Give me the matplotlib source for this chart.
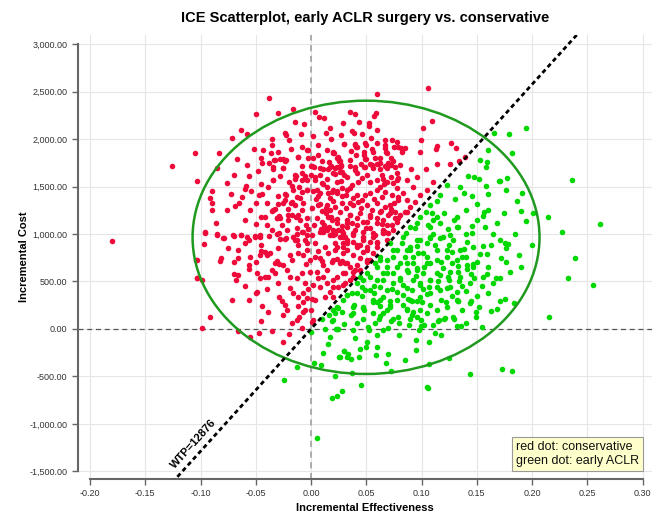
import numpy as np
import matplotlib
matplotlib.use('Agg')
import matplotlib.pyplot as plt
from matplotlib.patches import Ellipse
from matplotlib.ticker import FuncFormatter, MultipleLocator

plt.rcParams['font.family'] = ['Liberation Sans', 'DejaVu Sans']

# ICE plane values (incremental effectiveness, incremental cost)
far_left = [(-0.105, 1856), (-0.1255, 1720), (-0.103, 1562), (-0.180, 927), (-0.104, 727), (-0.103, 537)]

upper_left = [
    (-0.0377, 2436), (-0.0495, 2261), (-0.0299, 2274), (-0.016, 2320), (0.0036, 2282), (0.0075, 2232),
    (0.0115, 2225), (-0.0142, 2180), (-0.006, 2155), (-0.063, 2092), (-0.058, 2057), (-0.024, 2067),
    (-0.023, 2043), (-0.009, 2057), (0.0015, 2032), (0.0136, 2064), (0.027, 2043), (0.029, 2166),
    (-0.0718, 2008), (-0.083, 1853), (-0.0667, 1790), (-0.035, 1934), (-0.0434, 1885), (-0.003, 1882),
    (0.030, 1948), (0.0196, 1861), (-0.036, 1853), (-0.0118, 1814), (-0.045, 1797), (-0.0377, 1751),
    (-0.0443, 1751), (-0.0335, 1776), (-0.028, 1787), (-0.023, 1780), (0.0018, 1800), (0.010, 1769),
    (0.0238, 1804), (0.0256, 1769), (0.027, 1727), (0.0, 1713), (0.0024, 1709), (0.011, 1685),
    (0.0175, 1703), (0.022, 1635), (0.0262, 1653), (0.030, 1618), (-0.0253, 1695), (-0.0344, 1682),
    (-0.085, 1695), (-0.0763, 1541), (-0.056, 1611), (-0.0585, 1503), (-0.054, 1450), (-0.0347, 1569),
    (-0.039, 1492), (-0.0139, 1614), (-0.0148, 1576), (-0.0079, 1569), (-0.0057, 1608), (0.0, 1622),
    (0.0036, 1572), (0.0081, 1622), (-0.017, 1509), (-0.0106, 1498), (-0.0039, 1464), (0.0057, 1464),
    (0.0145, 1495), (0.0187, 1446), (0.0232, 1456), (0.0277, 1488), (0.0314, 1408), (-0.0896, 1453),
    (-0.091, 1376), (-0.0893, 1330), (-0.090, 1253), (-0.0624, 1387), (-0.076, 1253), (-0.069, 1295),
    (-0.0468, 1414), (-0.0446, 1422), (-0.040, 1327), (-0.0329, 1260), (-0.035, 1246), (-0.0229, 1414),
    (-0.0233, 1358), (-0.0178, 1327), (-0.021, 1203), (-0.0175, 1197), (-0.0139, 1183), (0.0048, 1366),
    (0.0081, 1319), (0.0133, 1274), (0.020, 1348), (0.0136, 1225), (0.018, 1183), (0.0235, 1155),
    (-0.045, 1176), (-0.042, 1183), (-0.0495, 1106), (-0.0857, 1119), (-0.031, 1172), (-0.029, 1193),
    (-0.0957, 1018), (-0.0703, 990), (-0.0636, 990), (-0.058, 972), (-0.051, 979), (-0.046, 986),
    (-0.0287, 1008), (-0.0127, 997), (-0.0081, 1025), (-0.0024, 1056), (0.0027, 1098), (0.009, 1050),
    (0.0127, 1053), (0.0163, 1077), (0.0202, 1039), (0.028, 1035), (0.0323, 1077), (-0.0853, 997),
    (-0.079, 955),
]

upper_right = [
    (0.106, 2535), (0.060, 2474), (0.0356, 2285), (0.040, 2264), (0.0588, 2271), (0.0573, 2240),
    (0.0432, 2183), (0.0525, 2166), (0.0528, 2141), (0.1098, 2190), (0.1017, 2120), (0.037, 2088),
    (0.0386, 2067), (0.0543, 2008), (0.0667, 1993), (0.0733, 1993), (0.0993, 1990), (0.040, 1944),
    (0.041, 1920), (0.0495, 1934), (0.067, 1903), (0.079, 1913), (0.081, 1909), (0.085, 1909),
    (0.114, 1927), (0.113, 1892), (0.127, 1962), (0.131, 1903), (0.099, 1864), (0.021, 1857),
    (0.048, 1867), (0.0564, 1864), (0.0679, 1861), (0.0824, 1861), (0.0244, 1808), (0.0256, 1780),
    (0.0489, 1787), (0.0624, 1804), (0.0624, 1745), (0.070, 1751), (0.074, 1766), (0.0178, 1716),
    (0.0232, 1703), (0.0274, 1716), (0.0353, 1716), (0.040, 1674), (0.0482, 1703), (0.055, 1730),
    (0.0564, 1695), (0.067, 1716), (0.0724, 1727), (0.0805, 1724), (0.0905, 1682), (0.1043, 1682),
    (0.1143, 1734), (0.126, 1737), (0.134, 1766), (0.1397, 1814), (0.1107, 1551), (0.1047, 1464),
    (0.0986, 1411), (0.094, 1340), (0.0896, 1288), (0.085, 1235), (0.079, 1166), (0.073, 1095),
    (0.067, 1025), (0.0866, 1569), (0.0926, 1498), (0.0835, 1429), (0.0957, 1604), (0.0776, 1569),
    (0.079, 1358), (0.0866, 1358),
    (0.1526, 1780), (0.159, 1758), (0.1605, 1885), (0.1587, 1703), (0.166, 2060), (0.179, 2053),
    (0.195, 2116), (0.1816, 1850), (0.1424, 1614), (0.1478, 1604), (0.1517, 1576), (0.135, 1498),
    (0.158, 1506), (0.170, 1558), (0.1774, 1593), (0.1765, 1464), (0.191, 1435), (0.190, 1239),
    (0.201, 1225), (0.1946, 1140), (0.2148, 1183), (0.2275, 1021), (0.236, 1566), (0.138, 1429),
    (0.130, 1366), (0.150, 1316), (0.1566, 1235), (0.160, 1250), (0.1557, 1193), (0.1457, 1085),
    (0.1577, 1077), (0.175, 1218), (0.146, 1014), (0.1235, 1516), (0.1167, 1411), (0.1137, 1351),
    (0.1077, 1306), (0.104, 1235), (0.0986, 1183), (0.096, 1112), (0.0896, 1077), (0.086, 1007),
    (0.1077, 1077), (0.1107, 1148), (0.120, 1218), (0.129, 1148), (0.132, 1077), (0.171, 1562),
    (0.186, 1351), (0.2615, 1106), (0.2555, 460),
]

core = [
    (-0.0084, 1913), (0.006, 1938), (0.0299, 1948), (0.0395, 1938), (0.0413, 1913), (0.0492, 1955),
    (0.0594, 1955), (0.067, 1938), (0.0751, 1920), (0.0775, 1973), (-0.0326, 1780), (-0.025, 1787),
    (-0.0235, 1773), (-0.0115, 1815), (-0.0033, 1885), (-0.0024, 1797), (0.0066, 1832), (0.0202, 1857),
    (0.0247, 1797), (0.0262, 1773), (0.0407, 1832), (0.0483, 1832), (0.0498, 1787), (0.060, 1737),
    (0.0691, 1857), (0.0721, 1797), (-0.0347, 1709), (-0.025, 1692), (0.0006, 1716), (0.0081, 1692),
    (0.0157, 1681), (0.0217, 1692), (0.0262, 1709), (0.0278, 1657), (0.0398, 1709), (0.0413, 1646),
    (0.0489, 1709), (0.0534, 1737), (0.0609, 1737), (0.0624, 1681), (0.0685, 1692), (0.076, 1709),
    (0.0775, 1639), (-0.0347, 1569), (-0.0145, 1622), (-0.0084, 1639), (-0.0039, 1569), (0.0036, 1604),
    (0.0097, 1541), (0.0112, 1527), (0.0202, 1639), (0.0232, 1551), (0.0323, 1604), (0.0368, 1516),
    (0.0428, 1551), (0.0504, 1622), (0.0534, 1551), (0.0594, 1569), (0.0655, 1576), (0.0685, 1551),
    (0.0745, 1534), (0.079, 1587), (0.0624, 1499), (-0.0235, 1422), (-0.016, 1464), (-0.013, 1393),
    (-0.0084, 1446), (-0.0039, 1464), (0.0021, 1457), (0.0081, 1429), (0.0157, 1436), (0.0172, 1376),
    (0.0202, 1464), (0.0232, 1429), (0.0323, 1464), (0.0353, 1481), (0.0413, 1411), (0.0459, 1358),
    (0.0489, 1411), (0.0534, 1429), (0.0594, 1464), (0.067, 1446), (0.073, 1411), (0.0775, 1481),
    (0.079, 1393), (-0.0341, 1253), (-0.025, 1323), (-0.0175, 1341), (-0.0145, 1306), (-0.0069, 1323),
    (0.0006, 1271), (0.0066, 1306), (0.0142, 1306), (0.0172, 1253), (0.0262, 1236), (0.0278, 1323),
    (0.0353, 1323), (0.0383, 1306), (0.0428, 1341), (0.0504, 1306), (0.0549, 1253), (0.0594, 1323),
    (0.067, 1288), (0.0715, 1306), (0.076, 1236), (-0.0311, 1165), (-0.028, 1165), (-0.0205, 1148),
    (-0.0115, 1200), (-0.010, 1148), (-0.0039, 1165), (0.0051, 1165), (0.0097, 1130), (0.0157, 1183),
    (0.0187, 1148), (0.0232, 1113), (0.0323, 1148), (0.0353, 1200), (0.0413, 1165), (0.0474, 1130),
    (0.0534, 1183), (0.0594, 1165), (0.0655, 1148), (0.070, 1200), (0.076, 1165), (-0.0356, 1042),
    (-0.022, 1042), (-0.013, 1060), (-0.0069, 1025), (0.0006, 990), (0.0081, 1025), (0.0142, 1042),
    (0.0202, 990), (0.0247, 1042), (0.0308, 972), (0.0398, 1042), (0.0474, 1025), (0.0534, 1060),
    (0.0579, 990), (0.0655, 1042), (0.070, 1007), (-0.0235, 944), (-0.0145, 937), (-0.0054, 937),
    (0.0036, 902), (0.0127, 867), (0.0217, 902), (0.0293, 867), (0.0383, 920), (0.0443, 885),
    (0.0534, 920), (0.0594, 902),
    (0.0353, 1200), (0.0443, 1218), (0.0534, 1200), (0.0624, 1236), (0.0715, 1218), (0.0805, 1200),
    (0.0866, 1236), (0.0323, 1113), (0.0413, 1095), (0.0504, 1130), (0.0594, 1113), (0.0685, 1095),
    (0.0775, 1130), (0.0293, 1007), (0.0383, 990), (0.0473, 972), (0.0564, 1007), (0.0654, 1025),
    (0.0745, 1042), (0.0323, 902), (0.0413, 885), (0.0504, 867), (0.0594, 920), (0.0685, 937),
    (0.0293, 797), (0.0383, 779), (0.0473, 814), (0.0564, 797), (0.0323, 691), (0.0413, 674),
    (0.0504, 709), (0.0293, 586), (0.0383, 604), (0.0308, 481),
    (0.020, 1008), (0.0292, 972), (0.0383, 1008), (0.0473, 937), (0.0564, 972), (0.0654, 1008),
    (0.0232, 867), (0.0323, 832), (0.0414, 867), (0.0504, 832), (0.0594, 867), (0.020, 727),
    (0.0262, 692), (0.0353, 656), (0.0443, 744), (0.0232, 551), (0.0308, 586), (0.020, 445),
    (0.0292, 463), (0.020, 340), (0.0534, 727), (0.0383, 551),
]

core_extra = [
    (-0.030, 1860), (-0.018, 1900), (0.014, 1880), (0.036, 1870), (0.055, 1890), (-0.028, 1610),
    (-0.020, 1550), (0.014, 1580), (0.027, 1560), (0.046, 1590), (0.064, 1620), (0.072, 1600),
    (-0.030, 1400), (-0.010, 1380), (0.006, 1400), (0.028, 1400), (0.038, 1380), (0.057, 1370),
    (0.064, 1390), (0.075, 1330), (-0.030, 1320), (-0.021, 1260), (-0.008, 1250), (0.010, 1240),
    (0.022, 1280), (0.032, 1270), (0.045, 1270), (0.063, 1240), (0.072, 1260), (-0.026, 1100),
    (-0.005, 1100), (0.012, 1100), (0.028, 1080), (0.037, 1120), (0.050, 1060), (0.064, 1110),
    (-0.040, 1100), (-0.060, 1150), (-0.055, 1250), (-0.065, 1330), (-0.050, 1330), (-0.072, 1420),
    (-0.060, 1470), (-0.045, 1530), (-0.070, 1620), (-0.048, 1660), (-0.058, 1730), (-0.052, 1900),
    (-0.020, 1990), (0.018, 2000), (0.046, 2050), (0.060, 2090), (0.017, 2120), (-0.035, 2000),
    (-0.008, 1720), (0.035, 1780), (0.058, 1800), (0.045, 1740), (0.016, 1760), (0.066, 1530),
    (-0.012, 880), (0.006, 820), (0.022, 830), (-0.030, 850), (-0.045, 880), (-0.060, 900),
    (-0.075, 850), (-0.070, 700), (-0.050, 700), (-0.035, 620), (-0.060, 450), (-0.030, 480),
    (-0.040, 420), (-0.025, 150), (-0.045, 80), (-0.035, -20), (0.008, 440), (0.0, 200),
    (-0.012, 240), (0.010, 720), (-0.005, 680), (0.015, 800),
]

lower_left = [
    (-0.0956, 1014), (-0.0965, 895), (-0.1035, 727), (-0.0824, 716), (-0.0815, 744), (-0.0664, 832),
    (-0.0658, 751), (-0.0552, 762), (-0.0558, 674), (-0.0462, 779), (-0.0416, 814), (-0.0401, 779),
    (-0.0452, 821), (-0.0371, 797), (-0.0311, 720), (-0.0326, 691), (-0.0293, 684), (-0.0256, 674),
    (-0.0694, 579), (-0.0658, 569), (-0.0682, 516), (-0.0561, 628), (-0.0718, 305), (-0.0558, 305),
    (-0.0492, 586), (-0.0462, 534), (-0.0416, 551), (-0.0386, 544), (-0.0326, 586), (-0.0492, 393),
    (-0.0498, 383), (-0.0446, 242), (-0.0386, 183), (-0.1035, 534), (-0.0983, 516), (-0.0914, 123),
    (-0.0986, 14), (-0.0658, -18), (-0.0552, -88), (-0.0474, -39), (-0.0287, 340), (-0.0265, 298),
    (-0.0235, 253), (-0.0214, 200), (-0.0854, 993), (-0.0793, 955), (-0.0694, 983), (-0.0637, 990),
    (-0.0561, 937), (-0.0507, 972), (-0.0462, 972), (-0.0377, 979), (-0.0305, 1000), (-0.0281, 944),
    (-0.0226, 955), (-0.016, 972), (-0.013, 937), (-0.0039, 990), (-0.0039, 902), (0.0112, 1025),
    (0.0172, 990), (0.0217, 1000), (0.0262, 972), (0.0293, 902), (0.0323, 937), (-0.019, 779),
    (-0.0175, 727), (-0.0115, 797), (-0.0069, 779), (-0.0039, 832), (-0.0009, 727), (0.0036, 762),
    (0.0081, 744), (0.0112, 674), (0.0142, 621), (0.0187, 709), (0.0232, 734), (0.0278, 720),
    (0.0308, 691), (-0.019, 428), (-0.016, 376), (-0.0115, 340), (-0.0069, 288), (-0.0054, 200),
    (-0.0106, 130), (-0.013, 95), (-0.0175, 60), (-0.0202, -53), (-0.025, -133), (-0.0078, 7),
    (0.0006, 77), (0.0021, 95), (0.0006, 312), (0.0036, 305), (-0.0069, 183), (-0.0024, 418),
    (-0.0075, 376), (-0.0039, 330), (-0.0054, 481), (0.0021, 463), (0.0066, 534), (0.0051, 604),
    (-0.0009, 604), (-0.0084, 586), (-0.013, 534), (-0.019, 551), (-0.022, 621), (0.0112, 551),
    (0.0142, 481), (0.0202, 516), (0.0247, 446), (0.0172, 393), (0.0127, 340),
]

lower_right = [
    (0.1997, 885), (0.2386, 748), (0.233, 540), (0.2157, 126), (0.173, -425), (0.182, -442),
    (0.144, -474), (0.106, -624), (0.1047, -614), (0.0455, -586), (0.0374, -467), (0.022, -491),
    (0.0724, -442), (0.107, -369), (0.1246, -309), (0.068, -355), (0.0256, -291), (0.030, -228),
    (0.0338, -263), (0.0365, -319), (0.0434, -298), (0.044, -214), (0.050, -193), (0.051, -137),
    (0.0597, -186), (0.0588, -270), (0.0953, -116), (0.1068, -140), (0.1176, -66), (0.1125, -45),
    (0.0232, -3), (0.0383, -10), (0.0525, -10), (0.0654, -10), (0.070, 14), (0.0519, 24),
    (0.089, 39), (0.098, -10), (0.0993, 28), (0.1026, 45), (0.115, 87), (0.1207, 108),
    (0.1294, 102), (0.1318, 35), (0.1357, 35), (0.1496, 123), (0.149, 179), (0.152, 235),
    (0.163, 190), (0.1686, 211), (0.171, 298), (0.1756, 312), (0.184, 274), (0.1445, 295),
    (0.144, 277), (0.1333, 295), (0.1225, 284), (0.1216, 112), (0.1156, 95), (0.0911, 144),
    (0.092, 182), (0.0872, 207), (0.0995, 95), (0.0745, 102), (0.0724, 87), (0.0624, 137),
    (0.0613, 108), (0.0468, 102), (0.0482, 200), (0.0383, 165), (0.0365, 151), (0.0278, 179),
    (0.0247, 221), (0.0389, 249), (0.0473, 228), (0.0715, 295), (0.0715, 256), (0.0688, 200),
    (0.0627, 239), (0.060, 288), (0.0558, 305), (0.0464, 347), (0.0414, 375), (0.0489, 411),
    (0.057, 453), (0.0875, 312), (0.0914, 298), (0.0962, 298), (0.1002, 284), (0.0986, 200),
    (0.1047, 369), (0.1068, 445), (0.114, 445), (0.123, 428), (0.1243, 551), (0.134, 509),
    (0.1364, 453), (0.1318, 393), (0.133, 292), (0.144, 484), (0.1475, 534), (0.1554, 551),
    (0.1595, 575), (0.1674, 540), (0.171, 540), (0.1463, 650), (0.1469, 681), (0.1409, 629),
    (0.133, 667), (0.1273, 814), (0.1364, 755), (0.1385, 839), (0.1463, 860), (0.156, 874),
    (0.1626, 885), (0.171, 937), (0.1756, 902), (0.1786, 895), (0.1765, 850), (0.172, 744),
    (0.1762, 702), (0.1526, 790), (0.159, 790),
    (0.0624, 727), (0.0685, 656), (0.0745, 586), (0.0805, 516), (0.0866, 621), (0.0926, 692),
    (0.0896, 832), (0.0971, 797), (0.1047, 761), (0.1077, 692), (0.1137, 586), (0.1197, 639),
    (0.1077, 516), (0.0986, 481), (0.0866, 428), (0.0776, 393), (0.0654, 340), (0.0564, 288),
    (0.0459, 445), (0.0368, 375), (0.0292, 305), (0.020, 200), (0.020, 95), (0.0534, 551),
    (0.0443, 621), (0.0353, 516), (0.0776, 832), (0.0715, 902), (0.0835, 972), (0.0957, 937),
    (0.1077, 972), (0.1197, 972), (0.1288, 937), (0.1348, 832), (0.1228, 832), (0.1137, 832),
    (0.1047, 902), (0.0654, 586), (0.0594, 656), (0.0473, 516), (0.0398, 621), (0.0504, 727),
    (0.0866, 832), (0.0957, 621), (0.1017, 586), (0.0926, 516), (0.0805, 692), (0.0745, 761),
    (0.1092, 1218), (0.1137, 1183), (0.1167, 1113), (0.1062, 1095), (0.1318, 1183), (0.1333, 1078),
    (0.1409, 920), (0.1258, 990), (0.1167, 955), (0.1077, 955), (0.0986, 937), (0.0941, 1060),
    (0.0896, 867), (0.0821, 902), (0.0745, 832), (0.0685, 727), (0.0624, 762), (0.0579, 691),
    (0.0504, 586), (0.0443, 551), (0.0413, 481), (0.0323, 358), (0.0383, 235), (0.0474, 218),
    (0.0564, 165), (0.0624, 305), (0.0685, 411), (0.0745, 481), (0.0805, 534), (0.0881, 604),
    (0.0956, 639), (0.1047, 691), (0.1137, 727), (0.1228, 762), (0.1318, 727), (0.1409, 674),
    (0.1348, 551), (0.1258, 604), (0.1167, 569), (0.1077, 516), (0.0986, 463), (0.0911, 411),
    (0.0836, 358), (0.0775, 305), (0.0715, 235), (0.0655, 165), (0.0896, 305), (0.0986, 340),
    (0.1077, 376), (0.1167, 411), (0.1258, 446), (0.1318, 305), (0.1228, 235), (0.1137, 200),
    (0.1047, 165), (0.0956, 130), (0.0866, 200), (0.079, 130), (0.1288, 130), (0.1363, 200),
    (0.1017, 797), (0.0926, 762), (0.0866, 691), (0.0775, 656), (0.0685, 586), (0.0594, 516),
    (0.0534, 411), (0.0624, 446),
    (0.0097, 102), (0.0163, 147), (0.0217, 165), (0.0187, 88), (0.0127, -4), (0.0172, -81),
    (0.0223, -4), (0.0247, -4), (0.0323, 358), (0.0232, 228), (0.0, -28), (0.0106, -256),
    (0.0299, -228), (0.0262, -291), (0.0323, -291), (0.0027, -355), (0.009, -383), (-0.013, -397),
    (-0.0241, -537), (0.019, -726), (0.0235, -702), (0.0278, -649), (0.0051, -1148),
]

green_extra = [
    (0.085, 760), (0.096, 870), (0.112, 880), (0.125, 880), (0.118, 700), (0.128, 690),
    (0.140, 760), (0.150, 700), (0.160, 650), (0.155, 450), (0.165, 480), (0.140, 400),
    (0.128, 350), (0.150, 350), (0.160, 380), (0.118, 300), (0.108, 250), (0.083, 250),
    (0.058, 60), (0.080, 60), (0.090, 100), (0.110, 40), (0.140, 60), (0.155, 20),
    (0.065, 520), (0.073, 420), (0.057, 380), (0.083, 460), (0.101, 420), (0.115, 500),
    (0.125, 520), (0.133, 600), (0.145, 580), (0.095, 560), (0.102, 650), (0.110, 1000),
    (0.124, 1050), (0.140, 1000), (0.150, 1150), (0.165, 1000), (0.168, 1120), (0.140, 1250),
    (0.146, 1400), (0.160, 1420), (0.185, 1000), (0.188, 780), (0.190, 650), (0.180, 600),
    (0.030, 50), (0.042, 60), (0.060, -60), (0.080, -60), (0.095, -220), (0.070, -260),
    (0.085, -330), (0.040, -100), (0.015, -160),
]

wtp = 12876
ellipse_center = (0.0498, 965)
ellipse_width = 0.314
ellipse_height = 2878
legend_lines = ['red dot: conservative', 'green dot: early ACLR']

pts = np.array(far_left + upper_left + upper_right + core + core_extra
               + lower_left + lower_right + green_extra, dtype=float)
effect = pts[:, 0]
cost = pts[:, 1]
isRed = cost > wtp * effect

fig = plt.figure(figsize=(6.69, 5.22), dpi=100)
ax = fig.add_axes([0.1166, 0.0824, 0.858, 0.8506])
xlim = (-0.2109, 0.3086)
ylim = (-1580, 3096)
ax.set_xlim(*xlim)
ax.set_ylim(*ylim)

# grid and reference lines
ax.xaxis.set_major_locator(MultipleLocator(0.05))
ax.yaxis.set_major_locator(MultipleLocator(500))
ax.grid(True, color='#e6e6e6', linewidth=0.8)
ax.set_axisbelow(True)
ax.axhline(0, color='#555555', linestyle=(0, (4, 3)), linewidth=0.9, zorder=1)
ax.axvline(0, color='#999999', linestyle=(0, (4, 3)), linewidth=1.1, zorder=1)

# points
ax.scatter(effect[isRed], cost[isRed], s=16, color='#EE0A3A', linewidths=0, zorder=2)
ax.scatter(effect[~isRed], cost[~isRed], s=16, color='#00D800', linewidths=0, zorder=2)

# confidence ellipse
ax.add_patch(Ellipse(ellipse_center, ellipse_width, ellipse_height, fill=False,
                     edgecolor='#1F9A1F', linewidth=1.8, zorder=4))

# WTP threshold line
xs = np.array(xlim)
ax.plot(xs, wtp * xs, color='black', linestyle=(0, (1.6, 1.2)), linewidth=2, zorder=5)
ax.text(-0.1059, -1211, f'WTP={wtp}', rotation=48, ha='center', va='center',
        fontsize=8, fontweight='bold', zorder=6)

# axes styling (R-like offset axes)
for side in ['top', 'right']:
    ax.spines[side].set_visible(False)
ax.spines['left'].set_bounds(-1500, 3000)
ax.spines['bottom'].set_bounds(-0.2, 0.3)
for side in ['left', 'bottom']:
    ax.spines[side].set_color('#666666')
    ax.spines[side].set_linewidth(1.5)
ax.set_xticks(np.arange(-0.2, 0.301, 0.05))
ax.set_yticks(np.arange(-1500, 3001, 500))
ax.xaxis.set_major_formatter(FuncFormatter(lambda v, p: f'{v + 0.0:.2f}' if abs(v) > 1e-9 else '0.00'))
ax.yaxis.set_major_formatter(FuncFormatter(lambda v, p: f'{v:,.2f}' if abs(v) > 1e-9 else '0.00'))
ax.tick_params(axis='both', direction='out', length=4, width=1, color='#666666',
               labelsize=6.5, labelcolor='#333333')

ax.set_xlabel('Incremental Effectiveness', fontsize=8, fontweight='bold')
ax.set_ylabel('Incremental Cost', fontsize=8, fontweight='bold')
ax.xaxis.set_label_coords(0.5, -0.054)
ax.yaxis.set_label_coords(-0.085, 0.5)

fig.text(365 / 669, 1 - 18 / 522, 'ICE Scatterplot, early ACLR surgery vs. conservative',
         ha='center', va='center', fontsize=10.5, fontweight='bold')

# legend box
ax.text(0.763, 0.028, '\n'.join(legend_lines), transform=ax.transAxes, ha='left', va='bottom',
        fontsize=9, color='#111111', linespacing=1.15, zorder=7,
        bbox=dict(boxstyle='square,pad=0.35', facecolor='#FFFFCC', edgecolor='#999999', linewidth=0.8))

fig.savefig('out.png', dpi=100)
plt.close(fig)
